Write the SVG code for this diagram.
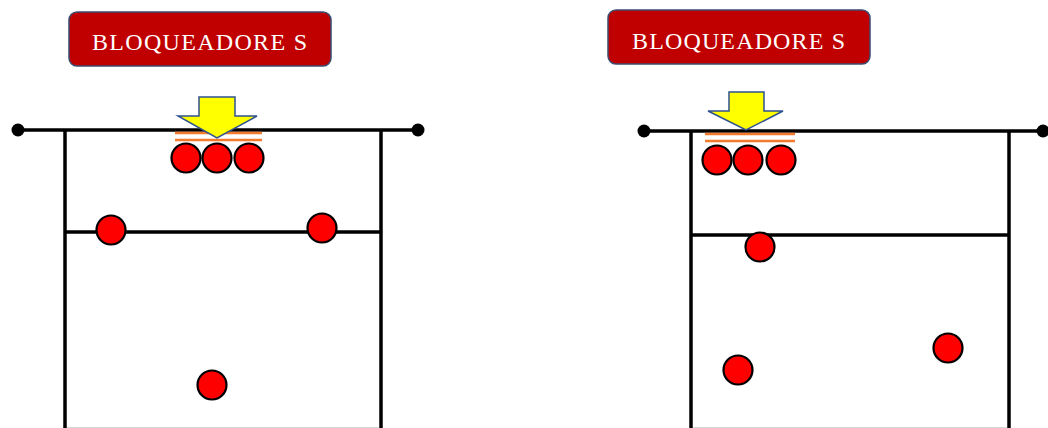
<svg xmlns="http://www.w3.org/2000/svg" width="1048" height="428" viewBox="0 0 1048 428">
<defs>
<style>
.lbl{fill:#C00000;stroke:#3B4B72;stroke-width:1.5}
.txt{font-family:"Liberation Serif","Times New Roman",serif;font-size:24px;fill:#FFFFFF}
.ln{stroke:#000;stroke-width:3.5;fill:none}
.dot{fill:#000}
.pl{fill:#FF0000;stroke:#000;stroke-width:2.2}
.arr{fill:#FFFF00;stroke:#2F528F;stroke-width:1.5;stroke-linejoin:miter}
.or{stroke:#F47A2C;stroke-width:2.5}
.edge{stroke:#D8D8D8;stroke-width:1}
</style>
</defs>
<rect width="1048" height="428" fill="#FFFFFF"/>
<g id="connectors">
<line class="ln" x1="18" y1="130" x2="418" y2="130"/>
<line class="ln" x1="65" y1="130" x2="65" y2="428"/>
<line class="ln" x1="381" y1="130" x2="381" y2="428"/>
<line class="ln" x1="65" y1="232" x2="381" y2="232"/>
<line class="edge" x1="67" y1="427.5" x2="379" y2="427.5"/>
<line class="ln" x1="644" y1="131" x2="1043" y2="131"/>
<line class="ln" x1="691" y1="131" x2="691" y2="428"/>
<line class="ln" x1="1009" y1="131" x2="1009" y2="428"/>
<line class="ln" x1="691" y1="235" x2="1009" y2="235"/>
<line class="edge" x1="693" y1="427.5" x2="1007" y2="427.5"/>
<circle class="dot" cx="18" cy="130" r="6.5"/>
<circle class="dot" cx="418" cy="130" r="6.5"/>
<circle class="dot" cx="644" cy="131" r="6.5"/>
<circle class="dot" cx="1043" cy="131" r="6.5"/>
</g>
<g id="label-left">
<rect class="lbl" x="69" y="12" width="262" height="54" rx="8"/>
<text class="txt" x="92" y="50" textLength="215" lengthAdjust="spacing">BLOQUEADORE S</text>
</g>
<g id="label-right">
<rect class="lbl" x="608" y="10" width="262" height="54" rx="8"/>
<text class="txt" x="632" y="49" textLength="213" lengthAdjust="spacing">BLOQUEADORE S</text>
</g>
<g id="block-left">
<line class="or" x1="175" y1="133" x2="262" y2="133"/>
<line class="or" x1="175" y1="140" x2="262" y2="140"/>
<circle class="pl" cx="186" cy="158" r="14.5"/>
<circle class="pl" cx="217" cy="158" r="14.5"/>
<circle class="pl" cx="249" cy="158" r="14.5"/>
<polygon class="arr" points="199,97 235,97 235,116 257,116 217,138 178,116 199,116"/>
</g>
<g id="block-right">
<line class="or" x1="705" y1="134" x2="795" y2="134"/>
<line class="or" x1="705" y1="141" x2="795" y2="141"/>
<circle class="pl" cx="717" cy="160" r="14.5"/>
<circle class="pl" cx="748" cy="160" r="14.5"/>
<circle class="pl" cx="781" cy="160" r="14.5"/>
<polygon class="arr" points="729,92 764,92 764,111 783,111 746,130 708,111 729,111"/>
</g>
<g id="defenders-left">
<circle class="pl" cx="111" cy="230" r="14.5"/>
<circle class="pl" cx="322" cy="228" r="14.5"/>
<circle class="pl" cx="212" cy="385" r="14.5"/>
</g>
<g id="defenders-right">
<circle class="pl" cx="760" cy="247" r="14.5"/>
<circle class="pl" cx="738" cy="370" r="14.5"/>
<circle class="pl" cx="948" cy="348" r="14.5"/>
</g>
</svg>
